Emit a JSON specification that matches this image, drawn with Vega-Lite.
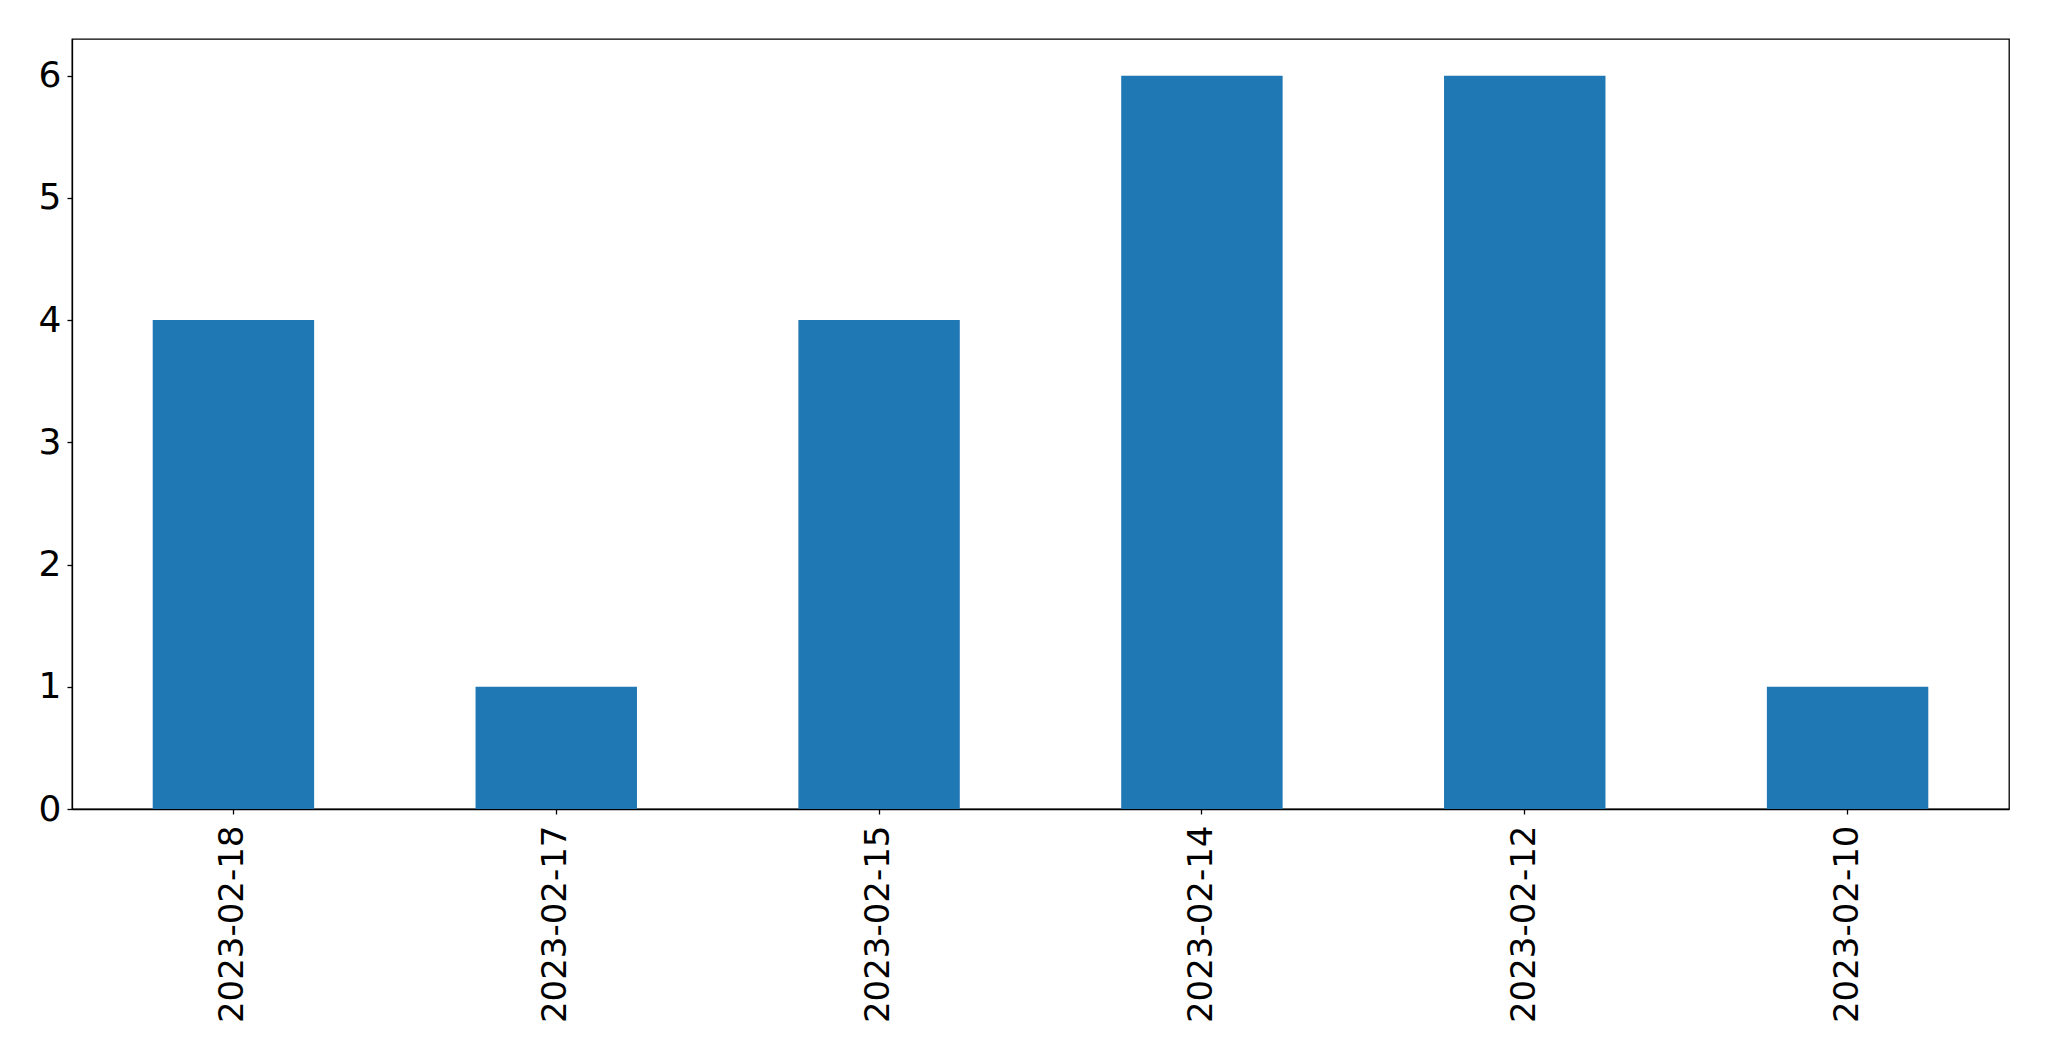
{
  "$schema": "https://vega.github.io/schema/vega-lite/v6.json",
  "autosize": "none",
  "width": 1937,
  "height": 770,
  "padding": {"left": 72, "top": 39, "right": 40, "bottom": 252},
  "background": "white",
  "config": {
    "view": {"stroke": "black", "strokeWidth": 1.3},
    "axis": {
      "labelFont": "DejaVu Sans",
      "labelFontSize": 36,
      "labelColor": "black",
      "labelLimit": 0,
      "domainColor": "black",
      "domainWidth": 1.3,
      "tickColor": "black",
      "tickWidth": 1.3,
      "tickSize": 5,
      "grid": false,
      "title": null
    }
  },
  "data": {
    "values": [
      {"date": "2023-02-18", "count": 4},
      {"date": "2023-02-17", "count": 1},
      {"date": "2023-02-15", "count": 4},
      {"date": "2023-02-14", "count": 6},
      {"date": "2023-02-12", "count": 6},
      {"date": "2023-02-10", "count": 1}
    ]
  },
  "mark": {"type": "bar", "color": "#1f77b4"},
  "encoding": {
    "x": {
      "field": "date",
      "type": "nominal",
      "sort": null,
      "scale": {"paddingInner": 0.5, "paddingOuter": 0.25},
      "axis": {"labelAngle": -90, "labelPadding": 11, "labelAlign": "right", "labelBaseline": "middle", "labelFontSize": 34}
    },
    "y": {
      "field": "count",
      "type": "quantitative",
      "scale": {"domain": [0, 6.3], "nice": false},
      "axis": {"values": [0, 1, 2, 3, 4, 5, 6], "labelPadding": 6}
    }
  }
}
